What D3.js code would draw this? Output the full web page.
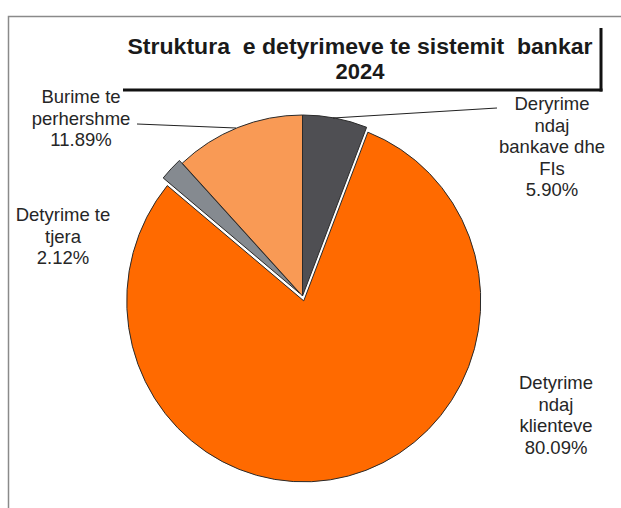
<!DOCTYPE html>
<html>
<head>
<meta charset="utf-8">
<script src="https://cdn.jsdelivr.net/npm/d3@7/dist/d3.min.js"></script>
<style>
  html, body { margin: 0; padding: 0; background: #fff; }
  svg { display: block; font-family: "Liberation Sans", Arial, sans-serif; }
</style>
</head>
<body>
<svg id="chart" width="621" height="508"></svg>
<script>
// Liabilities structure of the banking system, 2024 (shares in %)
const categories = [
  "Deryrime ndaj bankave dhe FIs",
  "Detyrime ndaj klienteve",
  "Detyrime te tjera",
  "Burime te perhershme"
];
const shares = [5.90, 80.09, 2.12, 11.89];
const labelLines = [
  ["Deryrime", "ndaj", "bankave dhe", "FIs"],
  ["Detyrime", "ndaj", "klienteve"],
  ["Detyrime te", "tjera"],
  ["Burime te", "perhershme"]
];
const titleLines = ["Struktura  e detyrimeve te sistemit  bankar", "2024"];

const colors = ["#4f4f53", "#ff6a00", "#858a90", "#f99a55"];
const explode = [0, 5, 4, 0];

// label anchor (centre x, first-line y) and leader line for each slice
const labelPos = [
  { x: 552, y: 110, leader: [[497, 108], [333, 118]] },
  { x: 556, y: 389 },
  { x: 63, y: 221 },
  { x: 81, y: 103, leader: [[137, 124], [236, 128]] }
];

const svg = d3.select("#chart");

// outer chart frame
svg.append("rect")
  .attr("x", 8.5).attr("y", 16.5)
  .attr("width", 700).attr("height", 600)
  .attr("fill", "#fff")
  .attr("stroke", "#8a8a8a").attr("stroke-width", 1.5);

// pie geometry
const cx = 302.5, cy = 296, R = 180, rx = 177, ry = 181;
const pie = d3.pie().sort(null).value(d => d)(shares);
const arc = d3.arc().innerRadius(0).outerRadius(R);

const pieG = svg.append("g")
  .attr("transform", `translate(${cx},${cy}) scale(${rx / R},${ry / R})`);

pieG.selectAll("path")
  .data(pie)
  .join("path")
  .attr("transform", (d, i) => {
    const a = (d.startAngle + d.endAngle) / 2;
    const off = explode[i];
    return `translate(${off * Math.sin(a)},${-off * Math.cos(a)})`;
  })
  .attr("d", arc)
  .attr("fill", (d, i) => colors[i])
  .attr("stroke", "#2a2a2a")
  .attr("stroke-width", 1)
  .attr("stroke-linejoin", "round")
  .attr("vector-effect", "non-scaling-stroke");

// leader lines
labelPos.forEach(p => {
  if (!p.leader) return;
  svg.append("line")
    .attr("x1", p.leader[0][0]).attr("y1", p.leader[0][1])
    .attr("x2", p.leader[1][0]).attr("y2", p.leader[1][1])
    .attr("stroke", "#222").attr("stroke-width", 1.2);
});

// slice labels
const fmt = d3.format(".2f");
labelPos.forEach((p, i) => {
  const lines = labelLines[i].concat([fmt(shares[i]) + "%"]);
  const t = svg.append("text")
    .attr("text-anchor", "middle")
    .attr("font-size", 18.5)
    .attr("fill", "#262626");
  lines.forEach((s, k) => {
    t.append("tspan").attr("x", p.x).attr("y", p.y + k * 21.5).text(s);
  });
});

// title with its frame (right and bottom edges)
svg.append("line").attr("x1", 123).attr("y1", 90).attr("x2", 602.5).attr("y2", 90)
  .attr("stroke", "#111").attr("stroke-width", 3);
svg.append("line").attr("x1", 601).attr("y1", 28).attr("x2", 601).attr("y2", 91.5)
  .attr("stroke", "#111").attr("stroke-width", 3);

const title = svg.append("text")
  .attr("text-anchor", "middle")
  .attr("font-weight", "bold")
  .attr("font-size", 22)
  .attr("fill", "#1a1a1a")
  .style("white-space", "pre");
titleLines.forEach((s, k) => {
  const ts = title.append("tspan").attr("x", 360).attr("y", 54 + k * 24.5).text(s);
  if (k === 0) ts.attr("textLength", 465).attr("lengthAdjust", "spacingAndGlyphs");
});
</script>
</body>
</html>
